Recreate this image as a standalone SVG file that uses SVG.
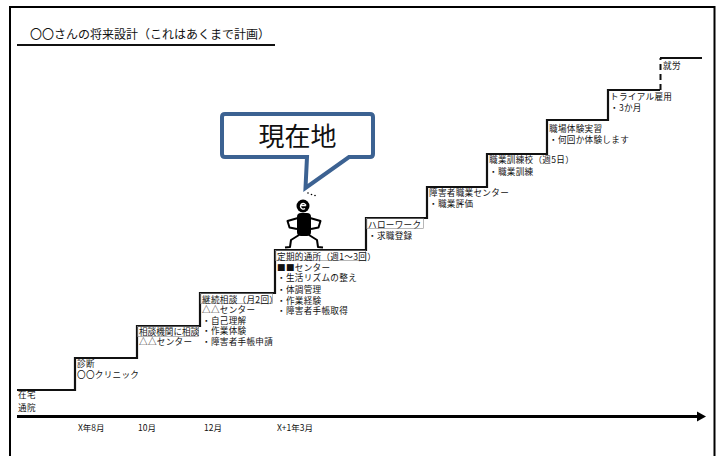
<svg xmlns="http://www.w3.org/2000/svg" width="719" height="456" viewBox="0 0 719 456">
  <style>
    .lbl { font-family: "Noto Sans CJK JP", "Noto Sans", sans-serif; font-size: 8.6px; letter-spacing: 0.3px; fill: #111; }
    .ax { font-family: "Noto Sans CJK JP", "Noto Sans", sans-serif; font-size: 8.5px; fill: #111; }
    .ttl { font-family: "Noto Sans CJK JP", "Noto Sans", sans-serif; font-size: 12px; fill: #111; }
    .stair { fill: none; stroke: #111; stroke-width: 2.2; stroke-linejoin: miter; }
    .tbox { fill: none; stroke: #888; stroke-width: 0.6; }
  </style>

  <rect width="719" height="456" fill="#ffffff"/>
  <!-- outer frame (open at the bottom) -->
  <path d="M10,470 V7 H714.5 V470" fill="none" stroke="#000" stroke-width="2"/>

  <!-- title -->
  <g id="title">
    <text class="ttl" x="30" y="39">〇〇さんの将来設計（これはあくまで計画）</text>
    <line x1="17" y1="45" x2="275" y2="45" stroke="#111" stroke-width="2"/>
  </g>

  <!-- staircase and time axis -->
  <g id="connectors">
    <path class="stair" d="M17,390 H75 V358 H137 V326 H200 V293 H275 V250 H366 V218 H427 V187 H487 V154 H547 V120 H608 V90 H660"/>
    <line x1="660.5" y1="90" x2="660.5" y2="58" stroke="#111" stroke-width="2" stroke-dasharray="6,4"/>
    <line x1="660" y1="58" x2="702" y2="58" stroke="#111" stroke-width="2"/>
    <line x1="17" y1="416.5" x2="699" y2="416.5" stroke="#000" stroke-width="3"/>
    <polygon points="697,411.5 706,416.5 697,421.5" fill="#000"/>
  </g>

  <!-- steps -->
  <g id="step-home">
    <text class="lbl" x="18" y="397.5">在宅</text>
    <text class="lbl" x="18" y="410.5">通院</text>
  </g>
  <g id="step-diagnosis">
    <text class="lbl" x="77" y="366.5">診断</text>
    <text class="lbl" x="77" y="377.5">〇〇クリニック</text>
  </g>
  <g id="step-consult">
    <rect class="tbox" x="137.5" y="326.5" width="61" height="10"/>
    <text class="lbl" x="139" y="334.5" style="letter-spacing:0">相談機関に相談</text>
    <text class="lbl" x="139" y="345">△△センター</text>
  </g>
  <g id="step-continued">
    <rect class="tbox" x="200.5" y="293.5" width="72" height="10"/>
    <text class="lbl" x="202" y="302.5">継続相談（月2回）</text>
    <text class="lbl" x="202" y="313">△△センター</text>
    <text class="lbl" x="202" y="323.5">・自己理解</text>
    <text class="lbl" x="202" y="334">・作業体験</text>
    <text class="lbl" x="202" y="344.5">・障害者手帳申請</text>
  </g>
  <g id="step-daycare">
    <rect class="tbox" x="275.5" y="250.5" width="90" height="10"/>
    <text class="lbl" x="277" y="260">定期的通所（週1～3回）</text>
    <text class="lbl" x="277" y="270.5">■■センター</text>
    <text class="lbl" x="277" y="281">・生活リズムの整え</text>
    <text class="lbl" x="277" y="292.5">・体調管理</text>
    <text class="lbl" x="277" y="303.5">・作業経験</text>
    <text class="lbl" x="277" y="314">・障害者手帳取得</text>
  </g>
  <g id="step-hellowork">
    <rect class="tbox" x="366.5" y="218.5" width="57" height="10"/>
    <text class="lbl" x="368" y="228">ハローワーク</text>
    <text class="lbl" x="368" y="239">・求職登録</text>
  </g>
  <g id="step-vocational-center">
    <text class="lbl" x="429" y="195.5">障害者職業センター</text>
    <text class="lbl" x="429" y="206.5">・職業評価</text>
  </g>
  <g id="step-training-school">
    <text class="lbl" x="489" y="163">職業訓練校（週5日）</text>
    <text class="lbl" x="489" y="174.5">・職業訓練</text>
  </g>
  <g id="step-internship">
    <text class="lbl" x="549" y="131.5">職場体験実習</text>
    <text class="lbl" x="549" y="142.5">・何回か体験します</text>
  </g>
  <g id="step-trial">
    <text class="lbl" x="610" y="99.5">トライアル雇用</text>
    <text class="lbl" x="610" y="110.5">・3か月</text>
  </g>
  <g id="step-employment">
    <text class="lbl" x="663" y="68.5">就労</text>
  </g>

  <!-- time axis labels -->
  <g id="axis-labels">
    <text class="ax" x="78" y="431">X年8月</text>
    <text class="ax" x="138" y="431">10月</text>
    <text class="ax" x="204" y="431">12月</text>
    <text class="ax" x="277" y="431">X+1年3月</text>
  </g>

  <!-- current-position callout -->
  <g id="callout">
    <path d="M225,114 H370 Q373,114 373,117 V154 Q373,157 370,157 H349 L305.5,188 L307,157 H225 Q222,157 222,154 V117 Q222,114 225,114 Z" fill="#fff" stroke="#3c6292" stroke-width="4" stroke-linejoin="miter"/>
    <text x="297.5" y="146" text-anchor="middle" font-family="Noto Sans CJK JP, Noto Sans, sans-serif" font-size="26" fill="#111">現在地</text>
  </g>

  <!-- small figure standing on the current step -->
  <g id="figure" fill="#000" stroke="#000">
    <circle cx="308" cy="193" r="0.8" stroke="none"/>
    <circle cx="311.5" cy="194.5" r="0.8" stroke="none"/>
    <circle cx="315" cy="195.5" r="0.8" stroke="none"/>
    <circle cx="303" cy="206" r="6.5" stroke="none"/>
    <path d="M300.5,205.5 H306 M306,205.5 A2.8,2.8 0 1 0 305,208.5" fill="none" stroke="#fff" stroke-width="1.3"/>
    <rect x="297" y="213" width="14" height="23" rx="4" stroke="none"/>
    <path d="M298,218 L287.5,221 L289.5,227.5 L297,229" fill="none" stroke-width="2" stroke-linejoin="round"/>
    <path d="M310,218 L320.5,221 L318.5,227.5 L311,229" fill="none" stroke-width="2" stroke-linejoin="round"/>
    <path d="M299,235 L291,240 L290,247 L285,247.5" fill="none" stroke-width="2" stroke-linejoin="round"/>
    <path d="M309,235 L317,240 L318,247 L323,247.5" fill="none" stroke-width="2" stroke-linejoin="round"/>
  </g>
</svg>
